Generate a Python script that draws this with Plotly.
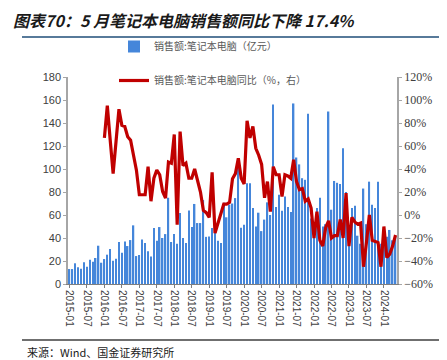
import plotly.graph_objects as go

# ---- data ----
months = [f"{y}-{m:02d}" for y in range(2015, 2025) for m in range(1, 13)][:113]
tick_labels = months[::6]

sales = [
    13, 13, 18, 14.5, 13.3, 19, 15, 21, 19.4, 22.6, 33.3, 18.5,          # 2015
    21.7, 25.5, 30.4, 20.3, 22, 36.5, 27.2, 37, 33, 38.2, 51, 24.3,      # 2016
    25.2, 38.8, 35.6, 28.4, 24, 48.6, 37.6, 49.5, 40, 43.4, 75, 36.5,    # 2017
    43.4, 35, 61.7, 40, 35.6, 63.9, 49.5, 69.6, 53, 53, 73, 41,          # 2018
    41.4, 48.6, 46, 37.6, 35.6, 70.7, 58, 69, 70, 74.7, 104, 49,         # 2019
    51.5, 87.6, 87.6, 66, 50, 62, 46, 56, 71, 60, 156, 67,               # 2020
    77.6, 63.7, 76, 67, 62.5, 157, 110, 104, 92, 90.6, 148, 57,          # 2021
    53, 66, 75, 50, 52, 150, 64.6, 89.6, 88, 87, 118, 80,                # 2022
    47, 66, 68, 42, 35, 83, 52, 89, 69, 66, 89, 35,                      # 2023
    42, 41, 47, 38, 42,                                                  # 2024
]

yoy = [None] * 12 + [
    67, 95, 65, 36, 64, 92, 78, 77, 68, 65, 52, 39,                      # 2016
    17.6, 17.6, 17.6, 42, 12, 32, 39, 35, 20.5, 14.7, 46, 45,            # 2017
    70, -8.5, 72.5, 43, 45, 32, 32, 40, 30, 20, 4, 2,                    # 2018
    -2, 37, -15.7, -7, 1, 9.5, 9.5, 11, 31.5, 36, 49.4, 32,              # 2019
    27, 82, 67, 77, 58, 52, 44, 15, 29, 3, 42, 35,                       # 2020
    35, 16, 35, 34, 32, 48, 29, 22, 23, 12, 14, 6,                       # 2021
    -20, 3, -22, -27, -11, -5, -20, -18, -18, -4, -20, 19,               # 2022
    -27, -2, -6, -8, -7, -45, -24, 0, -22, -23, -24, -45,                # 2023
    -10, -37, -34, -27, -17.4,                                           # 2024
]

bar_name = "销售额:笔记本电脑（亿元）"
line_name = "销售额:笔记本电脑同比（%，右）"
title_text = "图表70：5 月笔记本电脑销售额同比下降 17.4%"
source_text = "来源：Wind、国金证券研究所"

CJK = "Noto Sans CJK SC"

fig = go.Figure()
fig.add_trace(go.Bar(
    x=months, y=sales, name=bar_name, legendgroup="a",
    marker=dict(color="#4586DA", line=dict(width=0)), yaxis="y",
))
fig.add_trace(go.Scatter(
    x=months, y=yoy, name=line_name, legendgroup="b", mode="lines",
    line=dict(color="#C00000", width=3.2), yaxis="y2", connectgaps=False,
))

L, R, T, B = 60, 58, 69, 84
W, H = 447, 360
pw, ph = W - L - R, H - T - B

def px_x(x):
    return (x - L) / pw

def px_y(y):
    return (H - B - y) / ph

fig.update_layout(
    width=W, height=H,
    margin=dict(l=L, r=R, t=T, b=B),
    paper_bgcolor="white", plot_bgcolor="white",
    bargap=0.5,
    font=dict(family=CJK, size=11, color="#404040"),
    title=dict(
        text=title_text, xref="container", yref="container",
        x=5 / W, xanchor="left", y=1 - 13 / H, yanchor="middle",
        font=dict(family=CJK, size=16, color="#1a1a1a", weight="bold", style="italic"),
    ),
    legend=dict(
        x=px_x(106), xanchor="left", y=px_y(24), yanchor="top",
        bgcolor="rgba(0,0,0,0)", tracegroupgap=15,
        font=dict(family=CJK, size=10, color="#595959"),
        orientation="v",
    ),
    xaxis=dict(
        type="category", tickmode="array", tickvals=tick_labels, ticktext=tick_labels,
        tickangle=90, tickfont=dict(family="Liberation Sans", size=10, color="#404040"),
        showline=True, linecolor="#7F7F7F", linewidth=1,
        ticks="outside", ticklen=3, tickcolor="#7F7F7F",
        showgrid=False, range=[-0.5, len(months) - 0.5],
    ),
    yaxis=dict(
        range=[0, 180], dtick=20, showgrid=False, zeroline=False,
        showline=True, linecolor="#A6A6A6", linewidth=1.5,
        ticks="outside", ticklen=3, tickcolor="#A6A6A6",
        tickfont=dict(family="Liberation Sans", size=11, color="#404040"),
    ),
    yaxis2=dict(
        overlaying="y", side="right", range=[-60, 120], dtick=20,
        ticksuffix="%", showgrid=False, zeroline=False,
        showline=True, linecolor="#A6A6A6", linewidth=1.5,
        ticks="outside", ticklen=3, tickcolor="#A6A6A6",
        tickfont=dict(family="Liberation Serif", size=12, color="#404040"),
    ),
    shapes=[
        dict(type="line", xref="paper", yref="paper",
             x0=px_x(14), x1=px_x(447), y0=px_y(29), y1=px_y(29),
             line=dict(color="#1F4E79", width=1.5)),
        dict(type="line", xref="paper", yref="paper",
             x0=px_x(14), x1=px_x(447), y0=px_y(332), y1=px_y(332),
             line=dict(color="#3F3F3F", width=1.5)),
    ],
    annotations=[
        dict(text=source_text, xref="paper", yref="paper",
             x=px_x(17), y=px_y(344), xanchor="left", yanchor="middle",
             showarrow=False, font=dict(family=CJK, size=11, color="#1a1a1a")),
    ],
)

fig.write_html("out.html")
